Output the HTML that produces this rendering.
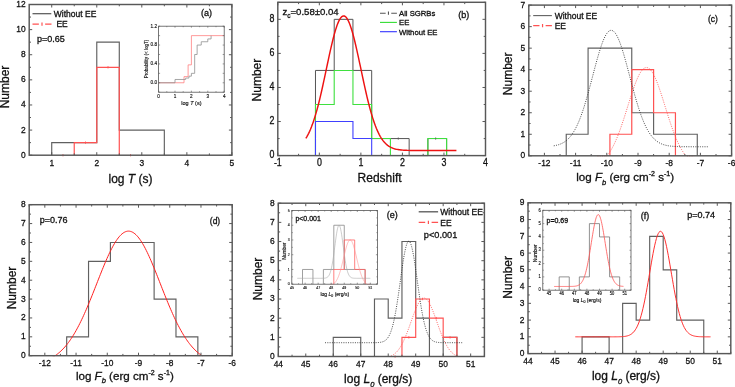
<!DOCTYPE html>
<html><head><meta charset="utf-8"><style>
html,body{margin:0;padding:0;background:#fff;}
body{width:735px;height:387px;overflow:hidden;}
svg{display:block;}
#w{width:735px;height:387px;will-change:transform;}
text{font-family:"Liberation Sans", sans-serif;fill:#111;stroke:#111;stroke-width:0.3px;}
</style></head><body><div id="w">
<svg width="735" height="387" viewBox="0 0 735 387">
<rect width="735" height="387" fill="#fff"/>
<polyline points="51.72,155.2 51.72,142.64 74.24,142.64 74.24,142.64 96.77,142.64 96.77,42.17 119.29,42.17 119.29,130.08 141.81,130.08 141.81,130.08 164.33,130.08 164.33,155.2" fill="none" stroke="#606060" stroke-width="1.15" />
<polyline points="74.24,155.2 74.24,142.64 96.77,142.64 96.77,67.29 119.29,67.29 119.29,155.2" fill="none" stroke="#ff5252" stroke-width="1.2" />
<path d="M85.51 141.44v2.4M108.03 66.09v2.4M62.98 154v2.4M130.55 154v2.4" stroke="#ff5252" stroke-width="0.8" fill="none"/>
<rect x="29.2" y="4.5" width="202.7" height="150.7" fill="none" stroke="#585858" stroke-width="1.45"/>
<path d="M51.72 155.2v-3M51.72 4.5v3M96.77 155.2v-3M96.77 4.5v3M141.81 155.2v-3M141.81 4.5v3M186.86 155.2v-3M186.86 4.5v3M231.9 155.2v-3M231.9 4.5v3M74.24 155.2v-1.8M74.24 4.5v1.8M119.29 155.2v-1.8M119.29 4.5v1.8M164.33 155.2v-1.8M164.33 4.5v1.8M209.38 155.2v-1.8M209.38 4.5v1.8M29.2 155.2h3M231.9 155.2h-3M29.2 130.08h3M231.9 130.08h-3M29.2 104.97h3M231.9 104.97h-3M29.2 79.85h3M231.9 79.85h-3M29.2 54.73h3M231.9 54.73h-3M29.2 29.62h3M231.9 29.62h-3M29.2 4.5h3M231.9 4.5h-3M29.2 142.64h1.8M231.9 142.64h-1.8M29.2 117.52h1.8M231.9 117.52h-1.8M29.2 92.41h1.8M231.9 92.41h-1.8M29.2 67.29h1.8M231.9 67.29h-1.8M29.2 42.17h1.8M231.9 42.17h-1.8M29.2 17.06h1.8M231.9 17.06h-1.8" stroke="#585858" stroke-width="1.0" fill="none"/>
<text transform="translate(51.72,165.5) scale(0.85,1)" font-size="9.9" text-anchor="middle">1</text>
<text transform="translate(96.77,165.5) scale(0.85,1)" font-size="9.9" text-anchor="middle">2</text>
<text transform="translate(141.81,165.5) scale(0.85,1)" font-size="9.9" text-anchor="middle">3</text>
<text transform="translate(186.86,165.5) scale(0.85,1)" font-size="9.9" text-anchor="middle">4</text>
<text transform="translate(231.9,165.5) scale(0.85,1)" font-size="9.9" text-anchor="middle">5</text>
<text transform="translate(25.7,157.67) scale(0.85,1)" font-size="9.9" text-anchor="end">0</text>
<text transform="translate(25.7,132.56) scale(0.85,1)" font-size="9.9" text-anchor="end">2</text>
<text transform="translate(25.7,107.44) scale(0.85,1)" font-size="9.9" text-anchor="end">4</text>
<text transform="translate(25.7,82.32) scale(0.85,1)" font-size="9.9" text-anchor="end">6</text>
<text transform="translate(25.7,57.21) scale(0.85,1)" font-size="9.9" text-anchor="end">8</text>
<text transform="translate(25.7,32.09) scale(0.85,1)" font-size="9.9" text-anchor="end">10</text>
<text transform="translate(25.7,6.97) scale(0.85,1)" font-size="9.9" text-anchor="end">12</text>
<text transform="translate(8.7,87) rotate(-90)" font-size="12" text-anchor="middle" >Number</text>
<text x="130.5" y="183" font-size="12" text-anchor="middle" >log <tspan font-style="italic">T</tspan> (s)</text>
<path d="M32.5 13.7H51.3" stroke="#555" stroke-width="1.2"/>
<path d="M32.5 24.2h6.37M45.13 24.2H51.5M42 22.6v3.2" stroke="#ff5252" stroke-width="1.2" fill="none"/>
<text x="53.8" y="16.9" font-size="8.5" text-anchor="start" >Without EE</text>
<text x="56.4" y="27.4" font-size="8.5" text-anchor="start" >EE</text>
<text x="37" y="42.2" font-size="9" text-anchor="start" >p=0.65</text>
<text x="206.5" y="16.3" font-size="9" text-anchor="middle" >(a)</text>
<polyline points="158.6,82.77 184.02,82.77 184.02,76.64 188.12,76.64 188.12,64.86 191.4,64.86 191.4,35.63 224.2,35.63" fill="none" stroke="#ff8080" stroke-width="0.8" />
<polyline points="158.6,82.77 175,82.77 175,79.47 185.66,79.47 185.66,78.06 188.94,78.06 188.94,76.17 191.4,76.17 191.4,73.34 194.68,73.34 194.68,54.49 197.14,54.49 197.14,45.06 201.24,45.06 201.24,41.76 207.8,41.76 207.8,38.93 211.08,38.93 211.08,35.63" fill="none" stroke="#909090" stroke-width="0.8" />
<rect x="158.6" y="26.2" width="65.6" height="66" fill="none" stroke="#555" stroke-width="0.8"/>
<path d="M158.6 92.2v-1.5M158.6 26.2v1.5M175 92.2v-1.5M175 26.2v1.5M191.4 92.2v-1.5M191.4 26.2v1.5M207.8 92.2v-1.5M207.8 26.2v1.5M224.2 92.2v-1.5M224.2 26.2v1.5M166.8 92.2v-1M166.8 26.2v1M183.2 92.2v-1M183.2 26.2v1M199.6 92.2v-1M199.6 26.2v1M216 92.2v-1M216 26.2v1M158.6 92.2h1.5M224.2 92.2h-1.5M158.6 82.77h1.5M224.2 82.77h-1.5M158.6 73.34h1.5M224.2 73.34h-1.5M158.6 63.91h1.5M224.2 63.91h-1.5M158.6 54.49h1.5M224.2 54.49h-1.5M158.6 45.06h1.5M224.2 45.06h-1.5M158.6 35.63h1.5M224.2 35.63h-1.5M158.6 26.2h1.5M224.2 26.2h-1.5" stroke="#555" stroke-width="0.6" fill="none"/>
<text transform="translate(158.6,97.7) scale(0.85,1)" font-size="5.5" text-anchor="middle" style="stroke-width:0.16px" fill="#3a3a3a" stroke="#3a3a3a">0</text>
<text transform="translate(175,97.7) scale(0.85,1)" font-size="5.5" text-anchor="middle" style="stroke-width:0.16px" fill="#3a3a3a" stroke="#3a3a3a">1</text>
<text transform="translate(191.4,97.7) scale(0.85,1)" font-size="5.5" text-anchor="middle" style="stroke-width:0.16px" fill="#3a3a3a" stroke="#3a3a3a">2</text>
<text transform="translate(207.8,97.7) scale(0.85,1)" font-size="5.5" text-anchor="middle" style="stroke-width:0.16px" fill="#3a3a3a" stroke="#3a3a3a">3</text>
<text transform="translate(224.2,97.7) scale(0.85,1)" font-size="5.5" text-anchor="middle" style="stroke-width:0.16px" fill="#3a3a3a" stroke="#3a3a3a">4</text>
<text transform="translate(157.1,84.15) scale(0.85,1)" font-size="5.5" text-anchor="end" style="stroke-width:0.16px" fill="#3a3a3a" stroke="#3a3a3a">0.0</text>
<text transform="translate(157.1,65.29) scale(0.85,1)" font-size="5.5" text-anchor="end" style="stroke-width:0.16px" fill="#3a3a3a" stroke="#3a3a3a">0.4</text>
<text transform="translate(157.1,46.43) scale(0.85,1)" font-size="5.5" text-anchor="end" style="stroke-width:0.16px" fill="#3a3a3a" stroke="#3a3a3a">0.8</text>
<text transform="translate(157.1,27.58) scale(0.85,1)" font-size="5.5" text-anchor="end" style="stroke-width:0.16px" fill="#3a3a3a" stroke="#3a3a3a">1.2</text>
<text x="191.4" y="105.2" font-size="5.5" text-anchor="middle" style="stroke-width:0.16px" >log <tspan font-style="italic">T</tspan> (s)</text>
<text transform="translate(147.6,59) rotate(-90)" font-size="4.6" text-anchor="middle" style="stroke-width:0.14px" >Probability (&lt; logT)</text>
<polyline points="315.48,155.6 315.48,70.43 334.21,70.43 334.21,19.33 352.95,19.33 352.95,70.43 371.68,70.43 371.68,138.57 390.41,138.57 390.41,138.57 409.15,138.57 409.15,155.6 427.88,155.6 427.88,138.57 446.62,138.57 446.62,155.6" fill="none" stroke="#555" stroke-width="1.0" />
<polyline points="315.48,155.6 315.48,104.5 334.21,104.5 334.21,70.43 352.95,70.43 352.95,104.5 371.68,104.5 371.68,138.57 390.41,138.57 390.41,155.6" fill="none" stroke="#3fe03f" stroke-width="1.1" />
<polyline points="427.88,155.6 427.88,138.57 446.62,138.57 446.62,155.6" fill="none" stroke="#3fe03f" stroke-width="1.1" />
<polyline points="315.48,155.6 315.48,121.53 334.21,121.53 334.21,121.53 352.95,121.53 352.95,138.57 371.68,138.57 371.68,155.6" fill="none" stroke="#4040ff" stroke-width="1.1" />
<path d="M398.27 137.37v2.4M435.65 137.37v2.4" stroke="#555" stroke-width="0.7" fill="none"/>
<polyline points="305.84,138.33 306.78,136.81 307.72,135.14 308.66,133.31 309.6,131.33 310.55,129.18 311.49,126.86 312.43,124.37 313.37,121.69 314.31,118.84 315.25,115.82 316.19,112.61 317.13,109.23 318.07,105.69 319.02,101.98 319.96,98.12 320.9,94.13 321.84,90.01 322.78,85.78 323.72,81.47 324.66,77.08 325.6,72.65 326.54,68.2 327.49,63.75 328.43,59.33 329.37,54.97 330.31,50.71 331.25,46.56 332.19,42.56 333.13,38.74 334.07,35.13 335.01,31.76 335.96,28.65 336.9,25.84 337.84,23.34 338.78,21.17 339.72,19.36 340.66,17.92 341.6,16.86 342.54,16.2 343.49,15.93 344.43,16.07 345.37,16.6 346.31,17.53 347.25,18.84 348.19,20.53 349.13,22.58 350.07,24.97 351.01,27.69 351.96,30.7 352.9,33.99 353.84,37.52 354.78,41.27 355.72,45.22 356.66,49.32 357.6,53.55 358.54,57.88 359.48,62.28 360.43,66.72 361.37,71.18 362.31,75.62 363.25,80.02 364.19,84.36 365.13,88.62 366.07,92.78 367.01,96.82 367.95,100.72 368.9,104.48 369.84,108.08 370.78,111.51 371.72,114.77 372.66,117.86 373.6,120.77 374.54,123.5 375.48,126.05 376.43,128.43 377.37,130.64 378.31,132.67 379.25,134.55 380.19,136.27 381.13,137.84 382.07,139.28 383.01,140.58 383.95,141.75 384.9,142.81 385.84,143.76 386.78,144.61 387.72,145.37 388.66,146.04 389.6,146.64 390.54,147.17 391.48,147.63 392.42,148.04 393.37,148.39 394.31,148.7 395.25,148.97 396.19,149.2 397.13,149.4 398.07,149.57 399.01,149.72 399.95,149.84 400.89,149.95 401.84,150.04 402.78,150.12 403.72,150.18 404.66,150.23 405.6,150.28 406.54,150.32 407.48,150.35 408.42,150.37 409.36,150.4 410.31,150.41 411.25,150.43 412.19,150.44 413.13,150.45 414.07,150.46 415.01,150.46 415.95,150.47 416.89,150.47 417.84,150.48 418.78,150.48 419.72,150.48 420.66,150.48 421.6,150.49 422.54,150.49 423.48,150.49 424.42,150.49 425.36,150.49 426.31,150.49 427.25,150.49 428.19,150.49 429.13,150.49 430.07,150.49 431.01,150.49 431.95,150.49 432.89,150.49 433.83,150.49 434.78,150.49 435.72,150.49 436.66,150.49 437.6,150.49 438.54,150.49 439.48,150.49 440.42,150.49 441.36,150.49 442.3,150.49 443.25,150.49 444.19,150.49 445.13,150.49 446.07,150.49 447.01,150.49 447.95,150.49 448.89,150.49 449.83,150.49 450.78,150.49 451.72,150.49 452.66,150.49 453.6,150.49 454.54,150.49 455.48,150.49 456.42,150.49" fill="none" stroke="#ee1111" stroke-width="1.45" />
<rect x="277.8" y="2.3" width="207.7" height="153.3" fill="none" stroke="#585858" stroke-width="1.45"/>
<path d="M277.8 155.6v-3M277.8 2.3v3M319.34 155.6v-3M319.34 2.3v3M360.88 155.6v-3M360.88 2.3v3M402.42 155.6v-3M402.42 2.3v3M443.96 155.6v-3M443.96 2.3v3M485.5 155.6v-3M485.5 2.3v3M298.57 155.6v-1.8M298.57 2.3v1.8M340.11 155.6v-1.8M340.11 2.3v1.8M381.65 155.6v-1.8M381.65 2.3v1.8M423.19 155.6v-1.8M423.19 2.3v1.8M464.73 155.6v-1.8M464.73 2.3v1.8M277.8 155.6h3M485.5 155.6h-3M277.8 121.53h3M485.5 121.53h-3M277.8 87.47h3M485.5 87.47h-3M277.8 53.4h3M485.5 53.4h-3M277.8 19.33h3M485.5 19.33h-3M277.8 138.57h1.8M485.5 138.57h-1.8M277.8 104.5h1.8M485.5 104.5h-1.8M277.8 70.43h1.8M485.5 70.43h-1.8M277.8 36.37h1.8M485.5 36.37h-1.8M277.8 2.3h1.8M485.5 2.3h-1.8" stroke="#585858" stroke-width="1.0" fill="none"/>
<text transform="translate(277.8,165.9) scale(0.85,1)" font-size="10.4" text-anchor="middle">-1</text>
<text transform="translate(319.34,165.9) scale(0.85,1)" font-size="10.4" text-anchor="middle">0</text>
<text transform="translate(360.88,165.9) scale(0.85,1)" font-size="10.4" text-anchor="middle">1</text>
<text transform="translate(402.42,165.9) scale(0.85,1)" font-size="10.4" text-anchor="middle">2</text>
<text transform="translate(443.96,165.9) scale(0.85,1)" font-size="10.4" text-anchor="middle">3</text>
<text transform="translate(485.5,165.9) scale(0.85,1)" font-size="10.4" text-anchor="middle">4</text>
<text transform="translate(274.3,158.2) scale(0.85,1)" font-size="10.4" text-anchor="end">0</text>
<text transform="translate(274.3,124.13) scale(0.85,1)" font-size="10.4" text-anchor="end">2</text>
<text transform="translate(274.3,90.07) scale(0.85,1)" font-size="10.4" text-anchor="end">4</text>
<text transform="translate(274.3,56) scale(0.85,1)" font-size="10.4" text-anchor="end">6</text>
<text transform="translate(274.3,21.93) scale(0.85,1)" font-size="10.4" text-anchor="end">8</text>
<text transform="translate(260.6,80.1) rotate(-90)" font-size="12" text-anchor="middle" >Number</text>
<text x="379.6" y="181.7" font-size="12" text-anchor="middle" >Redshift</text>
<path d="M380 13.2h5.66M391.24 13.2H396.9M388.45 11.6v3.2" stroke="#555" stroke-width="1.1" fill="none"/>
<path d="M380 22.4H396.9" stroke="#33dd33" stroke-width="1.1"/>
<path d="M380 31.7H396.9" stroke="#3333ff" stroke-width="1.1"/>
<text x="399" y="16" font-size="7.7" text-anchor="start" >All SGRBs</text>
<text x="399" y="25.2" font-size="7.7" text-anchor="start" >EE</text>
<text x="399" y="34.5" font-size="7.7" text-anchor="start" >Without EE</text>
<text x="282.4" y="15.1" font-size="9.6" text-anchor="start" >z<tspan font-size="6.5" dy="3">c</tspan><tspan dy="-3">=0.58&#177;0.04</tspan></text>
<text x="463.7" y="18.1" font-size="9" text-anchor="middle" >(b)</text>
<polyline points="566.24,155.8 566.24,134.27 588.08,134.27 588.08,48.16 609.92,48.16 609.92,48.16 631.76,48.16 631.76,112.74 653.6,112.74 653.6,134.27 675.44,134.27 675.44,134.27 697.28,134.27 697.28,155.8" fill="none" stroke="#606060" stroke-width="1.15" />
<polyline points="609.92,155.8 609.92,134.27 631.76,134.27 631.76,69.69 653.6,69.69 653.6,112.74 675.44,112.74 675.44,155.8" fill="none" stroke="#ff5252" stroke-width="1.2" />
<polyline points="553.76,145.81 554.73,145.65 555.69,145.46 556.66,145.24 557.62,144.99 558.59,144.71 559.55,144.38 560.52,144.01 561.48,143.59 562.45,143.12 563.41,142.59 564.38,142 565.34,141.34 566.31,140.6 567.27,139.78 568.24,138.87 569.2,137.86 570.17,136.76 571.13,135.55 572.1,134.23 573.07,132.79 574.03,131.22 575,129.53 575.96,127.71 576.93,125.75 577.89,123.65 578.86,121.41 579.82,119.03 580.79,116.51 581.75,113.85 582.72,111.05 583.68,108.12 584.65,105.07 585.61,101.89 586.58,98.6 587.54,95.21 588.51,91.74 589.47,88.19 590.44,84.58 591.4,80.93 592.37,77.25 593.34,73.56 594.3,69.89 595.27,66.26 596.23,62.68 597.2,59.18 598.16,55.79 599.13,52.52 600.09,49.4 601.06,46.44 602.02,43.68 602.99,41.13 603.95,38.82 604.92,36.75 605.88,34.94 606.85,33.42 607.81,32.19 608.78,31.26 609.74,30.63 610.71,30.32 611.67,30.33 612.64,30.66 613.61,31.29 614.57,32.24 615.54,33.49 616.5,35.03 617.47,36.85 618.43,38.93 619.4,41.26 620.36,43.82 621.33,46.59 622.29,49.55 623.26,52.68 624.22,55.96 625.19,59.36 626.15,62.86 627.12,66.44 628.08,70.08 629.05,73.75 630.01,77.43 630.98,81.11 631.95,84.76 632.91,88.37 633.88,91.92 634.84,95.39 635.81,98.77 636.77,102.05 637.74,105.22 638.7,108.27 639.67,111.2 640.63,113.99 641.6,116.64 642.56,119.15 643.53,121.53 644.49,123.76 645.46,125.85 646.42,127.8 647.39,129.62 648.35,131.31 649.32,132.86 650.28,134.3 651.25,135.61 652.22,136.82 653.18,137.92 654.15,138.92 655.11,139.82 656.08,140.64 657.04,141.37 658.01,142.03 658.97,142.62 659.94,143.15 660.9,143.62 661.87,144.03 662.83,144.4 663.8,144.72 664.76,145 665.73,145.25 666.69,145.47 667.66,145.66 668.62,145.82 669.59,145.96 670.56,146.08 671.52,146.19 672.49,146.28 673.45,146.35 674.42,146.42 675.38,146.48 676.35,146.52 677.31,146.56 678.28,146.6 679.24,146.62 680.21,146.65 681.17,146.67 682.14,146.68 683.1,146.7 684.07,146.71 685.03,146.72 686,146.73 686.96,146.73 687.93,146.74 688.89,146.74 689.86,146.74 690.83,146.75 691.79,146.75 692.76,146.75 693.72,146.75 694.69,146.75 695.65,146.75 696.62,146.76 697.58,146.76 698.55,146.76 699.51,146.76 700.48,146.76 701.44,146.76 702.41,146.76 703.37,146.76 704.34,146.76 705.3,146.76 706.27,146.76 707.23,146.76 708.2,146.76" fill="none" stroke="#333" stroke-width="0.9" stroke-dasharray="1 1.3"/>
<polyline points="597.44,155.8 598.04,155.8 598.65,155.8 599.25,155.8 599.86,155.8 600.46,155.8 601.07,155.8 601.67,155.8 602.28,155.8 602.88,155.8 603.48,155.8 604.09,155.8 604.69,155.8 605.3,155.8 605.9,155.8 606.51,155.8 607.11,155.65 607.72,154.89 608.32,154.09 608.93,153.25 609.53,152.36 610.13,151.44 610.74,150.47 611.34,149.46 611.95,148.4 612.55,147.29 613.16,146.15 613.76,144.95 614.37,143.71 614.97,142.42 615.57,141.09 616.18,139.71 616.78,138.29 617.39,136.82 617.99,135.31 618.6,133.76 619.2,132.16 619.81,130.53 620.41,128.85 621.02,127.14 621.62,125.4 622.22,123.62 622.83,121.81 623.43,119.98 624.04,118.12 624.64,116.24 625.25,114.34 625.85,112.42 626.46,110.5 627.06,108.56 627.66,106.62 628.27,104.68 628.87,102.75 629.48,100.82 630.08,98.91 630.69,97.01 631.29,95.13 631.9,93.28 632.5,91.46 633.11,89.68 633.71,87.93 634.31,86.23 634.92,84.58 635.52,82.98 636.13,81.43 636.73,79.95 637.34,78.54 637.94,77.2 638.55,75.93 639.15,74.73 639.75,73.62 640.36,72.6 640.96,71.66 641.57,70.81 642.17,70.05 642.78,69.39 643.38,68.83 643.99,68.37 644.59,68.01 645.2,67.75 645.8,67.59 646.4,67.53 647.01,67.58 647.61,67.73 648.22,67.99 648.82,68.34 649.43,68.8 650.03,69.35 650.64,70.01 651.24,70.76 651.85,71.6 652.45,72.53 653.05,73.55 653.66,74.66 654.26,75.85 654.87,77.11 655.47,78.45 656.08,79.86 656.68,81.34 657.29,82.87 657.89,84.47 658.49,86.12 659.1,87.82 659.7,89.56 660.31,91.35 660.91,93.16 661.52,95.01 662.12,96.89 662.73,98.78 663.33,100.7 663.93,102.62 664.54,104.56 665.14,106.5 665.75,108.44 666.35,110.37 666.96,112.3 667.56,114.22 668.17,116.12 668.77,118 669.38,119.86 669.98,121.7 670.58,123.5 671.19,125.28 671.79,127.03 672.4,128.74 673,130.42 673.61,132.06 674.21,133.66 674.82,135.21 675.42,136.73 676.02,138.2 676.63,139.62 677.23,141 677.84,142.34 678.44,143.63 679.05,144.87 679.65,146.07 680.26,147.22 680.86,148.33 681.47,149.39 682.07,150.4 682.67,151.38 683.28,152.3 683.88,153.19 684.49,154.03 685.09,154.84 685.7,155.6 686.3,155.8 686.91,155.8 687.51,155.8 688.12,155.8 688.72,155.8 689.32,155.8 689.93,155.8 690.53,155.8 691.14,155.8 691.74,155.8 692.35,155.8 692.95,155.8 693.56,155.8 694.16,155.8" fill="none" stroke="#ff5252" stroke-width="0.9" stroke-dasharray="1 1.3"/>
<rect x="528.8" y="5.1" width="202.8" height="150.7" fill="none" stroke="#585858" stroke-width="1.45"/>
<path d="M544.4 155.8v-3M544.4 5.1v3M575.6 155.8v-3M575.6 5.1v3M606.8 155.8v-3M606.8 5.1v3M638 155.8v-3M638 5.1v3M669.2 155.8v-3M669.2 5.1v3M700.4 155.8v-3M700.4 5.1v3M731.6 155.8v-3M731.6 5.1v3M528.8 155.8v-1.8M528.8 5.1v1.8M560 155.8v-1.8M560 5.1v1.8M591.2 155.8v-1.8M591.2 5.1v1.8M622.4 155.8v-1.8M622.4 5.1v1.8M653.6 155.8v-1.8M653.6 5.1v1.8M684.8 155.8v-1.8M684.8 5.1v1.8M716 155.8v-1.8M716 5.1v1.8M528.8 155.8h3M731.6 155.8h-3M528.8 134.27h3M731.6 134.27h-3M528.8 112.74h3M731.6 112.74h-3M528.8 91.21h3M731.6 91.21h-3M528.8 69.69h3M731.6 69.69h-3M528.8 48.16h3M731.6 48.16h-3M528.8 26.63h3M731.6 26.63h-3M528.8 5.1h3M731.6 5.1h-3M528.8 145.04h1.8M731.6 145.04h-1.8M528.8 123.51h1.8M731.6 123.51h-1.8M528.8 101.98h1.8M731.6 101.98h-1.8M528.8 80.45h1.8M731.6 80.45h-1.8M528.8 58.92h1.8M731.6 58.92h-1.8M528.8 37.39h1.8M731.6 37.39h-1.8M528.8 15.86h1.8M731.6 15.86h-1.8" stroke="#585858" stroke-width="1.0" fill="none"/>
<text transform="translate(544.4,166.1) scale(0.85,1)" font-size="9.9" text-anchor="middle">-12</text>
<text transform="translate(575.6,166.1) scale(0.85,1)" font-size="9.9" text-anchor="middle">-11</text>
<text transform="translate(606.8,166.1) scale(0.85,1)" font-size="9.9" text-anchor="middle">-10</text>
<text transform="translate(638,166.1) scale(0.85,1)" font-size="9.9" text-anchor="middle">-9</text>
<text transform="translate(669.2,166.1) scale(0.85,1)" font-size="9.9" text-anchor="middle">-8</text>
<text transform="translate(700.4,166.1) scale(0.85,1)" font-size="9.9" text-anchor="middle">-7</text>
<text transform="translate(731.6,166.1) scale(0.85,1)" font-size="9.9" text-anchor="middle">-6</text>
<text transform="translate(525.3,158.28) scale(0.85,1)" font-size="9.9" text-anchor="end">0</text>
<text transform="translate(525.3,136.75) scale(0.85,1)" font-size="9.9" text-anchor="end">1</text>
<text transform="translate(525.3,115.22) scale(0.85,1)" font-size="9.9" text-anchor="end">2</text>
<text transform="translate(525.3,93.69) scale(0.85,1)" font-size="9.9" text-anchor="end">3</text>
<text transform="translate(525.3,72.16) scale(0.85,1)" font-size="9.9" text-anchor="end">4</text>
<text transform="translate(525.3,50.63) scale(0.85,1)" font-size="9.9" text-anchor="end">5</text>
<text transform="translate(525.3,29.1) scale(0.85,1)" font-size="9.9" text-anchor="end">6</text>
<text transform="translate(525.3,7.57) scale(0.85,1)" font-size="9.9" text-anchor="end">7</text>
<text transform="translate(512.4,73.8) rotate(-90)" font-size="12" text-anchor="middle" >Number</text>
<text x="576.2" y="181.2" font-size="11.6" text-anchor="start" >log <tspan font-style="italic">F</tspan><tspan font-size="7.5" dy="3.8" font-style="italic">b</tspan><tspan dy="-3.8"> (erg cm</tspan><tspan font-size="7" dy="-5">-2</tspan><tspan dy="5"> s</tspan><tspan font-size="7" dy="-5">-1</tspan><tspan dy="5">)</tspan></text>
<path d="M533.2 15.6H551.9" stroke="#606060" stroke-width="1.1"/>
<path d="M533.2 25.7h6.26M545.64 25.7H551.9M542.55 24.1v3.2" stroke="#ff5252" stroke-width="1.2" fill="none"/>
<text x="554.7" y="18.6" font-size="8.5" text-anchor="start" >Without EE</text>
<text x="554.7" y="28.7" font-size="8.5" text-anchor="start" >EE</text>
<text x="712.9" y="21.8" font-size="8.5" text-anchor="middle" >(c)</text>
<polyline points="66.68,355.7 66.68,336.82 88.54,336.82 88.54,261.32 110.4,261.32 110.4,242.45 132.26,242.45 132.26,242.45 154.12,242.45 154.12,299.07 175.98,299.07 175.98,336.82 197.85,336.82 197.85,355.7" fill="none" stroke="#606060" stroke-width="1.15" />
<polyline points="52.62,355.7 53.56,355.7 54.5,355.7 55.43,355.49 56.37,354.82 57.31,354.12 58.24,353.37 59.18,352.59 60.12,351.77 61.06,350.9 61.99,349.99 62.93,349.04 63.87,348.04 64.8,347 65.74,345.91 66.68,344.77 67.61,343.58 68.55,342.35 69.49,341.06 70.42,339.72 71.36,338.33 72.3,336.89 73.24,335.4 74.17,333.86 75.11,332.26 76.05,330.62 76.98,328.92 77.92,327.17 78.86,325.37 79.79,323.53 80.73,321.63 81.67,319.69 82.6,317.7 83.54,315.67 84.48,313.59 85.42,311.48 86.35,309.32 87.29,307.13 88.23,304.91 89.16,302.65 90.1,300.37 91.04,298.06 91.97,295.73 92.91,293.37 93.85,291.01 94.78,288.63 95.72,286.24 96.66,283.85 97.6,281.46 98.53,279.08 99.47,276.7 100.41,274.34 101.34,271.99 102.28,269.67 103.22,267.37 104.15,265.1 105.09,262.87 106.03,260.68 106.96,258.53 107.9,256.44 108.84,254.4 109.78,252.42 110.71,250.5 111.65,248.65 112.59,246.87 113.52,245.17 114.46,243.55 115.4,242.02 116.33,240.57 117.27,239.22 118.21,237.96 119.14,236.8 120.08,235.74 121.02,234.78 121.96,233.94 122.89,233.2 123.83,232.57 124.77,232.05 125.7,231.65 126.64,231.36 127.58,231.18 128.51,231.12 129.45,231.18 130.39,231.36 131.32,231.65 132.26,232.05 133.2,232.57 134.14,233.2 135.07,233.94 136.01,234.78 136.95,235.74 137.88,236.8 138.82,237.96 139.76,239.22 140.69,240.57 141.63,242.02 142.57,243.55 143.5,245.17 144.44,246.87 145.38,248.65 146.32,250.5 147.25,252.42 148.19,254.4 149.13,256.44 150.06,258.53 151,260.68 151.94,262.87 152.87,265.1 153.81,267.37 154.75,269.67 155.68,271.99 156.62,274.34 157.56,276.7 158.5,279.08 159.43,281.46 160.37,283.85 161.31,286.24 162.24,288.63 163.18,291.01 164.12,293.37 165.05,295.73 165.99,298.06 166.93,300.37 167.86,302.65 168.8,304.91 169.74,307.13 170.68,309.32 171.61,311.48 172.55,313.59 173.49,315.67 174.42,317.7 175.36,319.69 176.3,321.63 177.23,323.53 178.17,325.37 179.11,327.17 180.04,328.92 180.98,330.62 181.92,332.26 182.86,333.86 183.79,335.4 184.73,336.89 185.67,338.33 186.6,339.72 187.54,341.06 188.48,342.35 189.41,343.58 190.35,344.77 191.29,345.91 192.22,347 193.16,348.04 194.1,349.04 195.04,349.99 195.97,350.9 196.91,351.77 197.85,352.59 198.78,353.37 199.72,354.12 200.66,354.82 201.59,355.49 202.53,355.7" fill="none" stroke="#ff2020" stroke-width="1.0" />
<rect x="29.2" y="204.7" width="203" height="151" fill="none" stroke="#585858" stroke-width="1.45"/>
<path d="M44.82 355.7v-3M44.82 204.7v3M76.05 355.7v-3M76.05 204.7v3M107.28 355.7v-3M107.28 204.7v3M138.51 355.7v-3M138.51 204.7v3M169.74 355.7v-3M169.74 204.7v3M200.97 355.7v-3M200.97 204.7v3M232.2 355.7v-3M232.2 204.7v3M29.2 355.7v-1.8M29.2 204.7v1.8M60.43 355.7v-1.8M60.43 204.7v1.8M91.66 355.7v-1.8M91.66 204.7v1.8M122.89 355.7v-1.8M122.89 204.7v1.8M154.12 355.7v-1.8M154.12 204.7v1.8M185.35 355.7v-1.8M185.35 204.7v1.8M216.58 355.7v-1.8M216.58 204.7v1.8M29.2 355.7h3M232.2 355.7h-3M29.2 336.82h3M232.2 336.82h-3M29.2 317.95h3M232.2 317.95h-3M29.2 299.07h3M232.2 299.07h-3M29.2 280.2h3M232.2 280.2h-3M29.2 261.32h3M232.2 261.32h-3M29.2 242.45h3M232.2 242.45h-3M29.2 223.57h3M232.2 223.57h-3M29.2 204.7h3M232.2 204.7h-3M29.2 346.26h1.8M232.2 346.26h-1.8M29.2 327.39h1.8M232.2 327.39h-1.8M29.2 308.51h1.8M232.2 308.51h-1.8M29.2 289.64h1.8M232.2 289.64h-1.8M29.2 270.76h1.8M232.2 270.76h-1.8M29.2 251.89h1.8M232.2 251.89h-1.8M29.2 233.01h1.8M232.2 233.01h-1.8M29.2 214.14h1.8M232.2 214.14h-1.8" stroke="#585858" stroke-width="1.0" fill="none"/>
<text transform="translate(44.82,366) scale(0.85,1)" font-size="9.9" text-anchor="middle">-12</text>
<text transform="translate(76.05,366) scale(0.85,1)" font-size="9.9" text-anchor="middle">-11</text>
<text transform="translate(107.28,366) scale(0.85,1)" font-size="9.9" text-anchor="middle">-10</text>
<text transform="translate(138.51,366) scale(0.85,1)" font-size="9.9" text-anchor="middle">-9</text>
<text transform="translate(169.74,366) scale(0.85,1)" font-size="9.9" text-anchor="middle">-8</text>
<text transform="translate(200.97,366) scale(0.85,1)" font-size="9.9" text-anchor="middle">-7</text>
<text transform="translate(232.2,366) scale(0.85,1)" font-size="9.9" text-anchor="middle">-6</text>
<text transform="translate(25.7,358.18) scale(0.85,1)" font-size="9.9" text-anchor="end">0</text>
<text transform="translate(25.7,339.3) scale(0.85,1)" font-size="9.9" text-anchor="end">1</text>
<text transform="translate(25.7,320.43) scale(0.85,1)" font-size="9.9" text-anchor="end">2</text>
<text transform="translate(25.7,301.55) scale(0.85,1)" font-size="9.9" text-anchor="end">3</text>
<text transform="translate(25.7,282.68) scale(0.85,1)" font-size="9.9" text-anchor="end">4</text>
<text transform="translate(25.7,263.8) scale(0.85,1)" font-size="9.9" text-anchor="end">5</text>
<text transform="translate(25.7,244.92) scale(0.85,1)" font-size="9.9" text-anchor="end">6</text>
<text transform="translate(25.7,226.05) scale(0.85,1)" font-size="9.9" text-anchor="end">7</text>
<text transform="translate(25.7,207.17) scale(0.85,1)" font-size="9.9" text-anchor="end">8</text>
<text transform="translate(15.8,288) rotate(-90)" font-size="12" text-anchor="middle" >Number</text>
<text x="75.9" y="379.5" font-size="11.6" text-anchor="start" >log <tspan font-style="italic">F</tspan><tspan font-size="7.5" dy="3.8" font-style="italic">b</tspan><tspan dy="-3.8"> (erg cm</tspan><tspan font-size="7" dy="-5">-2</tspan><tspan dy="5"> s</tspan><tspan font-size="7" dy="-5">-1</tspan><tspan dy="5">)</tspan></text>
<text x="39.7" y="223" font-size="9" text-anchor="start" >p=0.76</text>
<text x="215" y="224" font-size="8.5" text-anchor="middle" >(d)</text>
<polyline points="333.26,356.5 333.26,337.34 360.74,337.34 360.74,356.5" fill="none" stroke="#606060" stroke-width="1.15" />
<polyline points="374.48,356.5 374.48,299.01 388.22,299.01 388.22,318.18 401.96,318.18 401.96,241.52 415.7,241.52 415.7,318.18 429.44,318.18 429.44,356.5 443.18,356.5 443.18,337.34 456.92,337.34 456.92,356.5" fill="none" stroke="#606060" stroke-width="1.15" />
<polyline points="401.96,356.5 401.96,337.34 415.7,337.34 415.7,299.01 429.44,299.01 429.44,318.18 443.18,318.18 443.18,337.34 456.92,337.34 456.92,356.5" fill="none" stroke="#ff5252" stroke-width="1.15" />
<path d="M408.83 336.14v2.4M422.57 297.81v2.4M436.31 316.98v2.4M450.05 336.14v2.4M395.09 355.3v2.4" stroke="#ff5252" stroke-width="0.8" fill="none"/>
<polyline points="325.02,342.7 325.87,342.7 326.73,342.7 327.59,342.7 328.45,342.7 329.31,342.7 330.17,342.7 331.03,342.7 331.89,342.7 332.74,342.7 333.6,342.7 334.46,342.7 335.32,342.7 336.18,342.7 337.04,342.7 337.9,342.7 338.76,342.7 339.61,342.7 340.47,342.7 341.33,342.7 342.19,342.7 343.05,342.7 343.91,342.7 344.77,342.7 345.63,342.7 346.48,342.7 347.34,342.7 348.2,342.7 349.06,342.7 349.92,342.7 350.78,342.7 351.64,342.7 352.5,342.7 353.35,342.7 354.21,342.7 355.07,342.7 355.93,342.7 356.79,342.7 357.65,342.7 358.51,342.7 359.37,342.7 360.22,342.7 361.08,342.7 361.94,342.7 362.8,342.7 363.66,342.7 364.52,342.7 365.38,342.7 366.24,342.7 367.09,342.7 367.95,342.7 368.81,342.7 369.67,342.7 370.53,342.7 371.39,342.7 372.25,342.69 373.11,342.69 373.96,342.68 374.82,342.67 375.68,342.65 376.54,342.63 377.4,342.59 378.26,342.54 379.12,342.47 379.98,342.38 380.83,342.24 381.69,342.07 382.55,341.83 383.41,341.52 384.27,341.11 385.13,340.59 385.99,339.91 386.85,339.07 387.7,338.01 388.56,336.71 389.42,335.12 390.28,333.21 391.14,330.95 392,328.28 392.86,325.19 393.72,321.66 394.57,317.66 395.43,313.21 396.29,308.32 397.15,303.02 398.01,297.37 398.87,291.44 399.73,285.32 400.59,279.12 401.44,272.96 402.3,266.97 403.16,261.31 404.02,256.1 404.88,251.49 405.74,247.61 406.6,244.57 407.46,242.45 408.31,241.33 409.17,241.22 410.03,242.15 410.89,244.07 411.75,246.94 412.61,250.66 413.47,255.13 414.33,260.22 415.18,265.81 416.04,271.74 416.9,277.88 417.76,284.08 418.62,290.23 419.48,296.2 420.34,301.92 421.2,307.29 422.05,312.27 422.91,316.81 423.77,320.89 424.63,324.52 425.49,327.7 426.35,330.45 427.21,332.79 428.07,334.77 428.92,336.42 429.78,337.77 430.64,338.87 431.5,339.76 432.36,340.46 433.22,341.02 434.08,341.45 434.94,341.78 435.79,342.03 436.65,342.21 437.51,342.35 438.37,342.45 439.23,342.53 440.09,342.58 440.95,342.62 441.81,342.65 442.66,342.66 443.52,342.68 444.38,342.69 445.24,342.69 446.1,342.7 446.96,342.7 447.82,342.7 448.68,342.7 449.53,342.7 450.39,342.7 451.25,342.7 452.11,342.7 452.97,342.7 453.83,342.7 454.69,342.7 455.55,342.7 456.4,342.7 457.26,342.7 458.12,342.7 458.98,342.7 459.84,342.7 460.7,342.7 461.56,342.7 462.42,342.7" fill="none" stroke="#333" stroke-width="0.9" stroke-dasharray="1 1.3"/>
<polyline points="390.97,356.1 391.43,355.88 391.9,355.64 392.36,355.38 392.82,355.1 393.29,354.81 393.75,354.49 394.21,354.15 394.68,353.78 395.14,353.39 395.61,352.98 396.07,352.54 396.53,352.07 397,351.57 397.46,351.04 397.92,350.48 398.39,349.89 398.85,349.27 399.32,348.62 399.78,347.93 400.24,347.21 400.71,346.45 401.17,345.66 401.63,344.84 402.1,343.98 402.56,343.09 403.02,342.16 403.49,341.19 403.95,340.2 404.42,339.17 404.88,338.11 405.34,337.02 405.81,335.9 406.27,334.75 406.73,333.57 407.2,332.37 407.66,331.15 408.13,329.9 408.59,328.64 409.05,327.36 409.52,326.07 409.98,324.77 410.44,323.46 410.91,322.15 411.37,320.83 411.84,319.52 412.3,318.21 412.76,316.92 413.23,315.64 413.69,314.37 414.15,313.13 414.62,311.91 415.08,310.72 415.55,309.56 416.01,308.44 416.47,307.35 416.94,306.32 417.4,305.33 417.86,304.39 418.33,303.5 418.79,302.67 419.26,301.9 419.72,301.2 420.18,300.56 420.65,299.99 421.11,299.49 421.57,299.06 422.04,298.71 422.5,298.43 422.97,298.23 423.43,298.1 423.89,298.05 424.36,298.09 424.82,298.19 425.28,298.38 425.75,298.64 426.21,298.98 426.67,299.39 427.14,299.87 427.6,300.43 428.07,301.05 428.53,301.74 428.99,302.5 429.46,303.31 429.92,304.18 430.38,305.11 430.85,306.09 431.31,307.12 431.78,308.19 432.24,309.3 432.7,310.46 433.17,311.64 433.63,312.85 434.09,314.09 434.56,315.35 435.02,316.63 435.49,317.93 435.95,319.23 436.41,320.54 436.88,321.85 437.34,323.17 437.8,324.48 438.27,325.78 438.73,327.08 439.2,328.36 439.66,329.62 440.12,330.87 440.59,332.1 441.05,333.31 441.51,334.49 441.98,335.64 442.44,336.77 442.91,337.87 443.37,338.94 443.83,339.97 444.3,340.98 444.76,341.95 445.22,342.88 445.69,343.78 446.15,344.65 446.62,345.48 447.08,346.28 447.54,347.04 448.01,347.77 448.47,348.47 448.93,349.13 449.4,349.76 449.86,350.36 450.32,350.92 450.79,351.45 451.25,351.96 451.72,352.44 452.18,352.88 452.64,353.3 453.11,353.7 453.57,354.07 454.03,354.42 454.5,354.74 454.96,355.04 455.43,355.32 455.89,355.58 456.35,355.83 456.82,356.05 457.28,356.26 457.74,356.45 458.21,356.5 458.67,356.5 459.14,356.5 459.6,356.5 460.06,356.5 460.53,356.5 460.99,356.5 461.45,356.5 461.92,356.5 462.38,356.5 462.85,356.5 463.31,356.5 463.77,356.5 464.24,356.5 464.7,356.5 465.16,356.5" fill="none" stroke="#ff5252" stroke-width="0.9" stroke-dasharray="1 1.3"/>
<rect x="278.3" y="203.2" width="206.1" height="153.3" fill="none" stroke="#585858" stroke-width="1.45"/>
<path d="M278.3 356.5v-3M278.3 203.2v3M305.78 356.5v-3M305.78 203.2v3M333.26 356.5v-3M333.26 203.2v3M360.74 356.5v-3M360.74 203.2v3M388.22 356.5v-3M388.22 203.2v3M415.7 356.5v-3M415.7 203.2v3M443.18 356.5v-3M443.18 203.2v3M470.66 356.5v-3M470.66 203.2v3M292.04 356.5v-1.8M292.04 203.2v1.8M319.52 356.5v-1.8M319.52 203.2v1.8M347 356.5v-1.8M347 203.2v1.8M374.48 356.5v-1.8M374.48 203.2v1.8M401.96 356.5v-1.8M401.96 203.2v1.8M429.44 356.5v-1.8M429.44 203.2v1.8M456.92 356.5v-1.8M456.92 203.2v1.8M484.4 356.5v-1.8M484.4 203.2v1.8M278.3 356.5h3M484.4 356.5h-3M278.3 337.34h3M484.4 337.34h-3M278.3 318.18h3M484.4 318.18h-3M278.3 299.01h3M484.4 299.01h-3M278.3 279.85h3M484.4 279.85h-3M278.3 260.69h3M484.4 260.69h-3M278.3 241.52h3M484.4 241.52h-3M278.3 222.36h3M484.4 222.36h-3M278.3 203.2h3M484.4 203.2h-3M278.3 346.92h1.8M484.4 346.92h-1.8M278.3 327.76h1.8M484.4 327.76h-1.8M278.3 308.59h1.8M484.4 308.59h-1.8M278.3 289.43h1.8M484.4 289.43h-1.8M278.3 270.27h1.8M484.4 270.27h-1.8M278.3 251.11h1.8M484.4 251.11h-1.8M278.3 231.94h1.8M484.4 231.94h-1.8M278.3 212.78h1.8M484.4 212.78h-1.8" stroke="#585858" stroke-width="1.0" fill="none"/>
<text transform="translate(278.3,366.8) scale(0.85,1)" font-size="9.9" text-anchor="middle">44</text>
<text transform="translate(305.78,366.8) scale(0.85,1)" font-size="9.9" text-anchor="middle">45</text>
<text transform="translate(333.26,366.8) scale(0.85,1)" font-size="9.9" text-anchor="middle">46</text>
<text transform="translate(360.74,366.8) scale(0.85,1)" font-size="9.9" text-anchor="middle">47</text>
<text transform="translate(388.22,366.8) scale(0.85,1)" font-size="9.9" text-anchor="middle">48</text>
<text transform="translate(415.7,366.8) scale(0.85,1)" font-size="9.9" text-anchor="middle">49</text>
<text transform="translate(443.18,366.8) scale(0.85,1)" font-size="9.9" text-anchor="middle">50</text>
<text transform="translate(470.66,366.8) scale(0.85,1)" font-size="9.9" text-anchor="middle">51</text>
<text transform="translate(274.8,358.98) scale(0.85,1)" font-size="9.9" text-anchor="end">0</text>
<text transform="translate(274.8,339.81) scale(0.85,1)" font-size="9.9" text-anchor="end">1</text>
<text transform="translate(274.8,320.65) scale(0.85,1)" font-size="9.9" text-anchor="end">2</text>
<text transform="translate(274.8,301.49) scale(0.85,1)" font-size="9.9" text-anchor="end">3</text>
<text transform="translate(274.8,282.33) scale(0.85,1)" font-size="9.9" text-anchor="end">4</text>
<text transform="translate(274.8,263.16) scale(0.85,1)" font-size="9.9" text-anchor="end">5</text>
<text transform="translate(274.8,244) scale(0.85,1)" font-size="9.9" text-anchor="end">6</text>
<text transform="translate(274.8,224.84) scale(0.85,1)" font-size="9.9" text-anchor="end">7</text>
<text transform="translate(274.8,205.67) scale(0.85,1)" font-size="9.9" text-anchor="end">8</text>
<text transform="translate(262.4,279) rotate(-90)" font-size="12" text-anchor="middle" >Number</text>
<text x="378.2" y="383" font-size="12" text-anchor="middle" >log <tspan font-style="italic">L</tspan><tspan font-size="7.5" dy="3.6" font-style="italic">0</tspan><tspan dy="-3.6"> (erg/s)</tspan></text>
<path d="M418.7 211.8H438.1" stroke="#555" stroke-width="1.3"/>
<path d="M418.7 222.4h6.5M431.6 222.4H438.1M428.4 220.8v3.2" stroke="#ff5252" stroke-width="1.2" fill="none"/>
<text x="440.3" y="214.9" font-size="8.5" text-anchor="start" >Without EE</text>
<text x="440.3" y="225.9" font-size="8.5" text-anchor="start" >EE</text>
<text x="423.8" y="238" font-size="9.2" text-anchor="start" >p&lt;0.001</text>
<text x="392.3" y="217.8" font-size="9" text-anchor="middle" >(e)</text>
<polyline points="302.5,284.2 302.5,269.46 312.94,269.46 312.94,284.2" fill="none" stroke="#888" stroke-width="0.8" />
<polyline points="323.38,284.2 323.38,269.46 333.82,269.46 333.82,225.24 344.26,225.24 344.26,269.46 354.7,269.46 354.7,269.46 365.13,269.46 365.13,284.2" fill="none" stroke="#888" stroke-width="0.8" />
<polyline points="333.82,284.2 333.82,269.46 344.26,269.46 344.26,239.98 354.7,239.98 354.7,269.46 365.13,269.46 365.13,284.2" fill="none" stroke="#ff6060" stroke-width="0.8" />
<polyline points="297.28,278.3 297.74,278.3 298.19,278.3 298.65,278.3 299.11,278.3 299.56,278.3 300.02,278.3 300.48,278.3 300.93,278.3 301.39,278.3 301.85,278.3 302.3,278.3 302.76,278.3 303.22,278.3 303.67,278.3 304.13,278.3 304.59,278.3 305.04,278.3 305.5,278.3 305.96,278.3 306.41,278.3 306.87,278.3 307.33,278.3 307.78,278.3 308.24,278.3 308.7,278.3 309.15,278.3 309.61,278.3 310.07,278.3 310.53,278.3 310.98,278.3 311.44,278.3 311.9,278.3 312.35,278.3 312.81,278.3 313.27,278.3 313.72,278.3 314.18,278.3 314.64,278.3 315.09,278.3 315.55,278.3 316.01,278.3 316.46,278.3 316.92,278.3 317.38,278.3 317.83,278.3 318.29,278.3 318.75,278.3 319.2,278.3 319.66,278.3 320.12,278.3 320.57,278.3 321.03,278.3 321.49,278.3 321.94,278.29 322.4,278.29 322.86,278.27 323.31,278.26 323.77,278.24 324.23,278.21 324.68,278.16 325.14,278.1 325.6,278.01 326.05,277.88 326.51,277.71 326.97,277.49 327.42,277.19 327.88,276.81 328.34,276.31 328.79,275.69 329.25,274.9 329.71,273.93 330.16,272.75 330.62,271.34 331.08,269.68 331.53,267.74 331.99,265.53 332.45,263.03 332.9,260.26 333.36,257.24 333.82,254.01 334.27,250.62 334.73,247.12 335.19,243.61 335.64,240.16 336.1,236.86 336.56,233.82 337.01,231.11 337.47,228.84 337.93,227.08 338.38,225.88 338.84,225.3 339.3,225.34 339.75,226.02 340.21,227.3 340.67,229.14 341.12,231.48 341.58,234.23 342.04,237.32 342.49,240.64 342.95,244.11 343.41,247.63 343.86,251.11 344.32,254.48 344.78,257.69 345.23,260.67 345.69,263.4 346.15,265.86 346.6,268.04 347.06,269.93 347.52,271.56 347.97,272.94 348.43,274.08 348.89,275.02 349.35,275.78 349.8,276.39 350.26,276.87 350.72,277.24 351.17,277.53 351.63,277.74 352.09,277.9 352.54,278.02 353,278.11 353.46,278.17 353.91,278.21 354.37,278.24 354.83,278.26 355.28,278.28 355.74,278.29 356.2,278.29 356.65,278.3 357.11,278.3 357.57,278.3 358.02,278.3 358.48,278.3 358.94,278.3 359.39,278.3 359.85,278.3 360.31,278.3 360.76,278.3 361.22,278.3 361.68,278.3 362.13,278.3 362.59,278.3 363.05,278.3 363.5,278.3 363.96,278.3 364.42,278.3 364.87,278.3 365.33,278.3 365.79,278.3 366.24,278.3 366.7,278.3 367.16,278.3 367.61,278.3 368.07,278.3 368.53,278.3 368.98,278.3 369.44,278.3 369.9,278.3 370.35,278.3" fill="none" stroke="#aaa" stroke-width="0.6" />
<polyline points="329.9,284.2 330.16,284.2 330.41,284.2 330.66,284.2 330.91,284.2 331.17,284.2 331.42,284.2 331.67,284.2 331.93,284.2 332.18,284.2 332.43,284.2 332.68,284.2 332.94,284.2 333.19,284.1 333.44,283.94 333.69,283.76 333.95,283.56 334.2,283.35 334.45,283.12 334.71,282.88 334.96,282.61 335.21,282.33 335.46,282.02 335.72,281.69 335.97,281.34 336.22,280.96 336.48,280.56 336.73,280.13 336.98,279.67 337.23,279.19 337.49,278.68 337.74,278.14 337.99,277.57 338.25,276.97 338.5,276.34 338.75,275.68 339,274.99 339.26,274.27 339.51,273.52 339.76,272.74 340.02,271.93 340.27,271.09 340.52,270.22 340.77,269.33 341.03,268.4 341.28,267.46 341.53,266.49 341.78,265.5 342.04,264.49 342.29,263.47 342.54,262.42 342.8,261.37 343.05,260.31 343.3,259.24 343.55,258.17 343.81,257.09 344.06,256.02 344.31,254.96 344.57,253.9 344.82,252.86 345.07,251.83 345.32,250.83 345.58,249.85 345.83,248.89 346.08,247.97 346.34,247.08 346.59,246.23 346.84,245.43 347.09,244.66 347.35,243.95 347.6,243.29 347.85,242.68 348.11,242.12 348.36,241.63 348.61,241.2 348.86,240.83 349.12,240.53 349.37,240.29 349.62,240.12 349.88,240.01 350.13,239.98 350.38,240.01 350.63,240.12 350.89,240.29 351.14,240.53 351.39,240.83 351.64,241.2 351.9,241.63 352.15,242.12 352.4,242.68 352.66,243.29 352.91,243.95 353.16,244.66 353.41,245.43 353.67,246.23 353.92,247.08 354.17,247.97 354.43,248.89 354.68,249.85 354.93,250.83 355.18,251.83 355.44,252.86 355.69,253.9 355.94,254.96 356.2,256.02 356.45,257.09 356.7,258.17 356.95,259.24 357.21,260.31 357.46,261.37 357.71,262.42 357.97,263.47 358.22,264.49 358.47,265.5 358.72,266.49 358.98,267.46 359.23,268.4 359.48,269.33 359.74,270.22 359.99,271.09 360.24,271.93 360.49,272.74 360.75,273.52 361,274.27 361.25,274.99 361.5,275.68 361.76,276.34 362.01,276.97 362.26,277.57 362.52,278.14 362.77,278.68 363.02,279.19 363.27,279.67 363.53,280.13 363.78,280.56 364.03,280.96 364.29,281.34 364.54,281.69 364.79,282.02 365.04,282.33 365.3,282.61 365.55,282.88 365.8,283.12 366.06,283.35 366.31,283.56 366.56,283.76 366.81,283.94 367.07,284.1 367.32,284.2 367.57,284.2 367.83,284.2 368.08,284.2 368.33,284.2 368.58,284.2 368.84,284.2 369.09,284.2 369.34,284.2 369.6,284.2 369.85,284.2 370.1,284.2 370.35,284.2" fill="none" stroke="#ff9090" stroke-width="0.6" />
<rect x="291.8" y="210.5" width="85.6" height="73.7" fill="none" stroke="#555" stroke-width="0.8"/>
<path d="M292.06 284.2v-1.5M292.06 210.5v1.5M305.11 284.2v-1.5M305.11 210.5v1.5M318.16 284.2v-1.5M318.16 210.5v1.5M331.21 284.2v-1.5M331.21 210.5v1.5M344.26 284.2v-1.5M344.26 210.5v1.5M357.3 284.2v-1.5M357.3 210.5v1.5M370.35 284.2v-1.5M370.35 210.5v1.5M298.59 284.2v-1M298.59 210.5v1M311.63 284.2v-1M311.63 210.5v1M324.68 284.2v-1M324.68 210.5v1M337.73 284.2v-1M337.73 210.5v1M350.78 284.2v-1M350.78 210.5v1M363.83 284.2v-1M363.83 210.5v1M376.88 284.2v-1M376.88 210.5v1M291.8 284.2h1.5M377.4 284.2h-1.5M291.8 269.46h1.5M377.4 269.46h-1.5M291.8 254.72h1.5M377.4 254.72h-1.5M291.8 239.98h1.5M377.4 239.98h-1.5M291.8 225.24h1.5M377.4 225.24h-1.5M291.8 210.5h1.5M377.4 210.5h-1.5M291.8 276.83h1M377.4 276.83h-1M291.8 262.09h1M377.4 262.09h-1M291.8 247.35h1M377.4 247.35h-1M291.8 232.61h1M377.4 232.61h-1M291.8 217.87h1M377.4 217.87h-1" stroke="#555" stroke-width="0.6" fill="none"/>
<text transform="translate(292.06,289.4) scale(0.85,1)" font-size="4.2" text-anchor="middle" style="stroke-width:0.13px" fill="#3a3a3a" stroke="#3a3a3a">45</text>
<text transform="translate(305.11,289.4) scale(0.85,1)" font-size="4.2" text-anchor="middle" style="stroke-width:0.13px" fill="#3a3a3a" stroke="#3a3a3a">46</text>
<text transform="translate(318.16,289.4) scale(0.85,1)" font-size="4.2" text-anchor="middle" style="stroke-width:0.13px" fill="#3a3a3a" stroke="#3a3a3a">47</text>
<text transform="translate(331.21,289.4) scale(0.85,1)" font-size="4.2" text-anchor="middle" style="stroke-width:0.13px" fill="#3a3a3a" stroke="#3a3a3a">48</text>
<text transform="translate(344.26,289.4) scale(0.85,1)" font-size="4.2" text-anchor="middle" style="stroke-width:0.13px" fill="#3a3a3a" stroke="#3a3a3a">49</text>
<text transform="translate(357.3,289.4) scale(0.85,1)" font-size="4.2" text-anchor="middle" style="stroke-width:0.13px" fill="#3a3a3a" stroke="#3a3a3a">50</text>
<text transform="translate(370.35,289.4) scale(0.85,1)" font-size="4.2" text-anchor="middle" style="stroke-width:0.13px" fill="#3a3a3a" stroke="#3a3a3a">51</text>
<text transform="translate(289.8,285.25) scale(0.85,1)" font-size="4.2" text-anchor="end" style="stroke-width:0.13px" fill="#3a3a3a" stroke="#3a3a3a">0</text>
<text transform="translate(289.8,270.51) scale(0.85,1)" font-size="4.2" text-anchor="end" style="stroke-width:0.13px" fill="#3a3a3a" stroke="#3a3a3a">1</text>
<text transform="translate(289.8,255.77) scale(0.85,1)" font-size="4.2" text-anchor="end" style="stroke-width:0.13px" fill="#3a3a3a" stroke="#3a3a3a">2</text>
<text transform="translate(289.8,241.03) scale(0.85,1)" font-size="4.2" text-anchor="end" style="stroke-width:0.13px" fill="#3a3a3a" stroke="#3a3a3a">3</text>
<text transform="translate(289.8,226.29) scale(0.85,1)" font-size="4.2" text-anchor="end" style="stroke-width:0.13px" fill="#3a3a3a" stroke="#3a3a3a">4</text>
<text transform="translate(289.8,211.55) scale(0.85,1)" font-size="4.2" text-anchor="end" style="stroke-width:0.13px" fill="#3a3a3a" stroke="#3a3a3a">5</text>
<text x="334.8" y="296" font-size="5" text-anchor="middle" style="stroke-width:0.15px" >log <tspan font-style="italic">L</tspan><tspan font-size="3.5" dy="1.2">0</tspan><tspan dy="-1.2"> (erg/s)</tspan></text>
<text transform="translate(285.9,251) rotate(-90)" font-size="4.9" text-anchor="middle" style="stroke-width:0.15px" >Number</text>
<text x="295.4" y="220.9" font-size="7" text-anchor="start" >p&lt;0.001</text>
<polyline points="582.08,353.6 582.08,336.84 609.12,336.84 609.12,353.6" fill="none" stroke="#606060" stroke-width="1.15" />
<polyline points="622.64,353.6 622.64,303.33 636.16,303.33 636.16,320.09 649.68,320.09 649.68,236.31 663.2,236.31 663.2,269.82 676.72,269.82 676.72,320.09 703.76,320.09 703.76,353.6" fill="none" stroke="#606060" stroke-width="1.15" />
<polyline points="575.32,336.84 576.16,336.84 577.01,336.84 577.86,336.84 578.7,336.84 579.54,336.84 580.39,336.84 581.24,336.84 582.08,336.84 582.92,336.84 583.77,336.84 584.62,336.84 585.46,336.84 586.3,336.84 587.15,336.84 588,336.84 588.84,336.84 589.68,336.84 590.53,336.84 591.38,336.84 592.22,336.84 593.07,336.84 593.91,336.84 594.75,336.84 595.6,336.84 596.44,336.84 597.29,336.84 598.13,336.84 598.98,336.84 599.83,336.84 600.67,336.84 601.51,336.84 602.36,336.84 603.2,336.84 604.05,336.84 604.89,336.84 605.74,336.84 606.59,336.84 607.43,336.84 608.27,336.84 609.12,336.84 609.97,336.84 610.81,336.84 611.65,336.84 612.5,336.84 613.35,336.84 614.19,336.83 615.03,336.83 615.88,336.82 616.73,336.82 617.57,336.8 618.41,336.79 619.26,336.77 620.11,336.75 620.95,336.71 621.79,336.67 622.64,336.61 623.49,336.54 624.33,336.45 625.17,336.33 626.02,336.19 626.87,336 627.71,335.78 628.55,335.5 629.4,335.15 630.25,334.73 631.09,334.22 631.93,333.61 632.78,332.89 633.62,332.02 634.47,331.01 635.31,329.82 636.16,328.45 637,326.86 637.85,325.05 638.69,323 639.54,320.69 640.38,318.1 641.23,315.24 642.07,312.09 642.92,308.65 643.76,304.94 644.61,300.95 645.45,296.7 646.3,292.23 647.14,287.57 647.99,282.75 648.83,277.81 649.68,272.82 650.52,267.83 651.37,262.9 652.21,258.1 653.06,253.5 653.9,249.17 654.75,245.18 655.6,241.58 656.44,238.45 657.28,235.84 658.13,233.78 658.97,232.32 659.82,231.49 660.66,231.3 661.51,231.75 662.36,232.83 663.2,234.53 664.04,236.82 664.89,239.65 665.74,242.97 666.58,246.73 667.42,250.87 668.27,255.31 669.12,260 669.96,264.86 670.8,269.82 671.65,274.82 672.5,279.79 673.34,284.69 674.18,289.46 675.03,294.05 675.88,298.43 676.72,302.57 677.56,306.46 678.41,310.06 679.25,313.39 680.1,316.42 680.94,319.17 681.79,321.64 682.63,323.85 683.48,325.81 684.32,327.52 685.17,329.02 686.01,330.32 686.86,331.43 687.7,332.38 688.55,333.19 689.39,333.87 690.24,334.44 691.09,334.91 691.93,335.3 692.77,335.62 693.62,335.87 694.46,336.08 695.31,336.25 696.15,336.38 697,336.49 697.85,336.57 698.69,336.64 699.53,336.69 700.38,336.73 701.22,336.76 702.07,336.78 702.91,336.8 703.76,336.81 704.61,336.82 705.45,336.83 706.29,336.83 707.14,336.83 707.98,336.84 708.83,336.84 709.67,336.84 710.52,336.84" fill="none" stroke="#ff3030" stroke-width="1.0" />
<rect x="528" y="202.8" width="202.8" height="150.8" fill="none" stroke="#585858" stroke-width="1.45"/>
<path d="M528 353.6v-3M528 202.8v3M555.04 353.6v-3M555.04 202.8v3M582.08 353.6v-3M582.08 202.8v3M609.12 353.6v-3M609.12 202.8v3M636.16 353.6v-3M636.16 202.8v3M663.2 353.6v-3M663.2 202.8v3M690.24 353.6v-3M690.24 202.8v3M717.28 353.6v-3M717.28 202.8v3M541.52 353.6v-1.8M541.52 202.8v1.8M568.56 353.6v-1.8M568.56 202.8v1.8M595.6 353.6v-1.8M595.6 202.8v1.8M622.64 353.6v-1.8M622.64 202.8v1.8M649.68 353.6v-1.8M649.68 202.8v1.8M676.72 353.6v-1.8M676.72 202.8v1.8M703.76 353.6v-1.8M703.76 202.8v1.8M730.8 353.6v-1.8M730.8 202.8v1.8M528 353.6h3M730.8 353.6h-3M528 336.84h3M730.8 336.84h-3M528 320.09h3M730.8 320.09h-3M528 303.33h3M730.8 303.33h-3M528 286.58h3M730.8 286.58h-3M528 269.82h3M730.8 269.82h-3M528 253.07h3M730.8 253.07h-3M528 236.31h3M730.8 236.31h-3M528 219.56h3M730.8 219.56h-3M528 202.8h3M730.8 202.8h-3M528 345.22h1.8M730.8 345.22h-1.8M528 328.47h1.8M730.8 328.47h-1.8M528 311.71h1.8M730.8 311.71h-1.8M528 294.96h1.8M730.8 294.96h-1.8M528 278.2h1.8M730.8 278.2h-1.8M528 261.44h1.8M730.8 261.44h-1.8M528 244.69h1.8M730.8 244.69h-1.8M528 227.93h1.8M730.8 227.93h-1.8M528 211.18h1.8M730.8 211.18h-1.8" stroke="#585858" stroke-width="1.0" fill="none"/>
<text transform="translate(528,363.9) scale(0.85,1)" font-size="9.9" text-anchor="middle">44</text>
<text transform="translate(555.04,363.9) scale(0.85,1)" font-size="9.9" text-anchor="middle">45</text>
<text transform="translate(582.08,363.9) scale(0.85,1)" font-size="9.9" text-anchor="middle">46</text>
<text transform="translate(609.12,363.9) scale(0.85,1)" font-size="9.9" text-anchor="middle">47</text>
<text transform="translate(636.16,363.9) scale(0.85,1)" font-size="9.9" text-anchor="middle">48</text>
<text transform="translate(663.2,363.9) scale(0.85,1)" font-size="9.9" text-anchor="middle">49</text>
<text transform="translate(690.24,363.9) scale(0.85,1)" font-size="9.9" text-anchor="middle">50</text>
<text transform="translate(717.28,363.9) scale(0.85,1)" font-size="9.9" text-anchor="middle">51</text>
<text transform="translate(524.5,356.08) scale(0.85,1)" font-size="9.9" text-anchor="end">0</text>
<text transform="translate(524.5,339.32) scale(0.85,1)" font-size="9.9" text-anchor="end">1</text>
<text transform="translate(524.5,322.56) scale(0.85,1)" font-size="9.9" text-anchor="end">2</text>
<text transform="translate(524.5,305.81) scale(0.85,1)" font-size="9.9" text-anchor="end">3</text>
<text transform="translate(524.5,289.05) scale(0.85,1)" font-size="9.9" text-anchor="end">4</text>
<text transform="translate(524.5,272.3) scale(0.85,1)" font-size="9.9" text-anchor="end">5</text>
<text transform="translate(524.5,255.54) scale(0.85,1)" font-size="9.9" text-anchor="end">6</text>
<text transform="translate(524.5,238.79) scale(0.85,1)" font-size="9.9" text-anchor="end">7</text>
<text transform="translate(524.5,222.03) scale(0.85,1)" font-size="9.9" text-anchor="end">8</text>
<text transform="translate(524.5,205.28) scale(0.85,1)" font-size="9.9" text-anchor="end">9</text>
<text transform="translate(512.4,277.3) rotate(-90)" font-size="12" text-anchor="middle" >Number</text>
<text x="626" y="380" font-size="12" text-anchor="middle" >log <tspan font-style="italic">L</tspan><tspan font-size="7.5" dy="3.6" font-style="italic">0</tspan><tspan dy="-3.6"> (erg/s)</tspan></text>
<text x="687.2" y="218.2" font-size="9" text-anchor="start" >p=0.74</text>
<text x="645.1" y="218.6" font-size="9" text-anchor="middle" >(f)</text>
<polyline points="559.18,290.2 559.18,276.88 569.26,276.88 569.26,290.2" fill="none" stroke="#777" stroke-width="0.8" />
<polyline points="579.34,290.2 579.34,276.88 589.42,276.88 589.42,223.62 599.5,223.62 599.5,236.93 609.58,236.93 609.58,276.88 619.66,276.88 619.66,290.2" fill="none" stroke="#777" stroke-width="0.8" />
<polyline points="554.14,286.47 554.57,286.47 555.01,286.47 555.44,286.47 555.87,286.47 556.31,286.47 556.74,286.47 557.17,286.47 557.6,286.47 558.04,286.47 558.47,286.47 558.9,286.47 559.34,286.47 559.77,286.47 560.2,286.47 560.64,286.47 561.07,286.47 561.5,286.47 561.94,286.47 562.37,286.47 562.8,286.47 563.24,286.47 563.67,286.47 564.1,286.47 564.53,286.47 564.97,286.47 565.4,286.47 565.83,286.47 566.27,286.47 566.7,286.47 567.13,286.47 567.57,286.47 568,286.47 568.43,286.46 568.87,286.46 569.3,286.46 569.73,286.46 570.17,286.45 570.6,286.45 571.03,286.44 571.46,286.43 571.9,286.42 572.33,286.41 572.76,286.39 573.2,286.37 573.63,286.34 574.06,286.31 574.5,286.27 574.93,286.22 575.36,286.16 575.8,286.09 576.23,286.01 576.66,285.91 577.1,285.79 577.53,285.64 577.96,285.48 578.39,285.28 578.83,285.05 579.26,284.78 579.69,284.47 580.13,284.11 580.56,283.69 580.99,283.22 581.43,282.68 581.86,282.07 582.29,281.38 582.73,280.6 583.16,279.73 583.59,278.77 584.03,277.7 584.46,276.52 584.89,275.22 585.32,273.81 585.76,272.27 586.19,270.61 586.62,268.82 587.06,266.91 587.49,264.88 587.92,262.73 588.36,260.46 588.79,258.09 589.22,255.63 589.66,253.08 590.09,250.46 590.52,247.79 590.96,245.08 591.39,242.36 591.82,239.64 592.25,236.95 592.69,234.3 593.12,231.73 593.55,229.26 593.99,226.9 594.42,224.69 594.85,222.65 595.29,220.8 595.72,219.16 596.15,217.75 596.59,216.58 597.02,215.67 597.45,215.02 597.89,214.66 598.32,214.57 598.75,214.76 599.18,215.23 599.62,215.97 600.05,216.98 600.48,218.24 600.92,219.73 601.35,221.45 601.78,223.37 602.22,225.48 602.65,227.74 603.08,230.14 603.52,232.65 603.95,235.26 604.38,237.92 604.82,240.63 605.25,243.35 605.68,246.07 606.12,248.77 606.55,251.42 606.98,254.01 607.41,256.53 607.85,258.97 608.28,261.3 608.71,263.52 609.15,265.63 609.58,267.62 610.01,269.49 610.45,271.23 610.88,272.84 611.31,274.33 611.75,275.71 612.18,276.96 612.61,278.1 613.04,279.13 613.48,280.06 613.91,280.89 614.34,281.64 614.78,282.3 615.21,282.89 615.64,283.4 616.08,283.85 616.51,284.25 616.94,284.59 617.38,284.88 617.81,285.14 618.24,285.36 618.68,285.54 619.11,285.7 619.54,285.83 619.98,285.95 620.41,286.04 620.84,286.12 621.27,286.18 621.71,286.24 622.14,286.28 622.57,286.32 623.01,286.35 623.44,286.37" fill="none" stroke="#ff5050" stroke-width="0.8" />
<rect x="542.8" y="210.3" width="88.2" height="79.9" fill="none" stroke="#555" stroke-width="0.8"/>
<path d="M549.1 290.2v-1.5M549.1 210.3v1.5M561.7 290.2v-1.5M561.7 210.3v1.5M574.3 290.2v-1.5M574.3 210.3v1.5M586.9 290.2v-1.5M586.9 210.3v1.5M599.5 290.2v-1.5M599.5 210.3v1.5M612.1 290.2v-1.5M612.1 210.3v1.5M624.7 290.2v-1.5M624.7 210.3v1.5M542.8 290.2v-1M542.8 210.3v1M555.4 290.2v-1M555.4 210.3v1M568 290.2v-1M568 210.3v1M580.6 290.2v-1M580.6 210.3v1M593.2 290.2v-1M593.2 210.3v1M605.8 290.2v-1M605.8 210.3v1M618.4 290.2v-1M618.4 210.3v1M631 290.2v-1M631 210.3v1M542.8 290.2h1.5M631 290.2h-1.5M542.8 276.88h1.5M631 276.88h-1.5M542.8 263.57h1.5M631 263.57h-1.5M542.8 250.25h1.5M631 250.25h-1.5M542.8 236.93h1.5M631 236.93h-1.5M542.8 223.62h1.5M631 223.62h-1.5M542.8 210.3h1.5M631 210.3h-1.5M542.8 283.54h1M631 283.54h-1M542.8 270.23h1M631 270.23h-1M542.8 256.91h1M631 256.91h-1M542.8 243.59h1M631 243.59h-1M542.8 230.28h1M631 230.28h-1M542.8 216.96h1M631 216.96h-1" stroke="#555" stroke-width="0.6" fill="none"/>
<text transform="translate(549.1,295.4) scale(0.85,1)" font-size="4.8" text-anchor="middle" style="stroke-width:0.14px" fill="#3a3a3a" stroke="#3a3a3a">45</text>
<text transform="translate(561.7,295.4) scale(0.85,1)" font-size="4.8" text-anchor="middle" style="stroke-width:0.14px" fill="#3a3a3a" stroke="#3a3a3a">46</text>
<text transform="translate(574.3,295.4) scale(0.85,1)" font-size="4.8" text-anchor="middle" style="stroke-width:0.14px" fill="#3a3a3a" stroke="#3a3a3a">47</text>
<text transform="translate(586.9,295.4) scale(0.85,1)" font-size="4.8" text-anchor="middle" style="stroke-width:0.14px" fill="#3a3a3a" stroke="#3a3a3a">48</text>
<text transform="translate(599.5,295.4) scale(0.85,1)" font-size="4.8" text-anchor="middle" style="stroke-width:0.14px" fill="#3a3a3a" stroke="#3a3a3a">49</text>
<text transform="translate(612.1,295.4) scale(0.85,1)" font-size="4.8" text-anchor="middle" style="stroke-width:0.14px" fill="#3a3a3a" stroke="#3a3a3a">50</text>
<text transform="translate(624.7,295.4) scale(0.85,1)" font-size="4.8" text-anchor="middle" style="stroke-width:0.14px" fill="#3a3a3a" stroke="#3a3a3a">51</text>
<text transform="translate(540.8,291.4) scale(0.85,1)" font-size="4.8" text-anchor="end" style="stroke-width:0.14px" fill="#3a3a3a" stroke="#3a3a3a">0</text>
<text transform="translate(540.8,278.08) scale(0.85,1)" font-size="4.8" text-anchor="end" style="stroke-width:0.14px" fill="#3a3a3a" stroke="#3a3a3a">1</text>
<text transform="translate(540.8,264.77) scale(0.85,1)" font-size="4.8" text-anchor="end" style="stroke-width:0.14px" fill="#3a3a3a" stroke="#3a3a3a">2</text>
<text transform="translate(540.8,251.45) scale(0.85,1)" font-size="4.8" text-anchor="end" style="stroke-width:0.14px" fill="#3a3a3a" stroke="#3a3a3a">3</text>
<text transform="translate(540.8,238.13) scale(0.85,1)" font-size="4.8" text-anchor="end" style="stroke-width:0.14px" fill="#3a3a3a" stroke="#3a3a3a">4</text>
<text transform="translate(540.8,224.82) scale(0.85,1)" font-size="4.8" text-anchor="end" style="stroke-width:0.14px" fill="#3a3a3a" stroke="#3a3a3a">5</text>
<text transform="translate(540.8,211.5) scale(0.85,1)" font-size="4.8" text-anchor="end" style="stroke-width:0.14px" fill="#3a3a3a" stroke="#3a3a3a">6</text>
<text x="587" y="301.5" font-size="5" text-anchor="middle" style="stroke-width:0.15px" >log <tspan font-style="italic">L</tspan><tspan font-size="3.5" dy="1.2">0</tspan><tspan dy="-1.2"> (erg/s)</tspan></text>
<text transform="translate(536.5,253.3) rotate(-90)" font-size="5" text-anchor="middle" style="stroke-width:0.15px" >Number</text>
<text x="546.5" y="222.5" font-size="7" text-anchor="start" >p=0.69</text>
</svg></div>
</body></html>
